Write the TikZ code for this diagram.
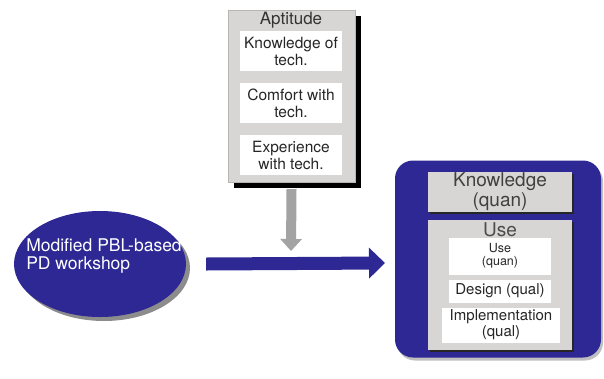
\documentclass[tikz,border=0pt]{standalone}
\usepackage{fontspec}
\setmainfont{TeX Gyre Heros}
\usetikzlibrary{shapes.geometric,shadows,arrows.meta,backgrounds}
\definecolor{navy}{RGB}{46,40,148}
\definecolor{boxgray}{RGB}{216,214,212}
\definecolor{arrgray}{RGB}{163,163,163}
\tikzset{
    aptbox/.style={rectangle, fill=boxgray, draw=boxgray!85!black, minimum width=127pt, minimum height=172pt},
    shade/.style={fill=black},
    item/.style={rectangle, fill=white, minimum width=102pt, minimum height=40pt, inner sep=0, align=center,
        text=black!85, font=\fontsize{15.5}{17}\selectfont},
    title/.style={inner sep=0, text=black!80, font=\fontsize{17}{18}\selectfont},
    workshop/.style={ellipse, fill=navy, minimum width=172pt, minimum height=106pt,
        general shadow={fill=black!45, shadow xshift=4pt, shadow yshift=-4pt}},
    wklabel/.style={text=white, align=left, inner sep=0, font=\fontsize{17.5}{18.5}\selectfont},
    result/.style={rectangle, fill=navy, rounded corners=18pt, minimum width=206pt, minimum height=197pt,
        general shadow={fill=black!25, shadow xshift=2pt, shadow yshift=-3pt}},
    graybox/.style={rectangle, fill=boxgray, minimum width=144pt, inner sep=0, align=center, text=black!75,
        font=\fontsize{19}{20}\selectfont, preaction={fill=black!85, transform canvas={xshift=2pt, yshift=-2pt}}},
    bluearrow/.style={draw=navy, line width=13pt, -{Triangle[length=16pt, width=30pt]}},
    grayarrow/.style={draw=arrgray, line width=10pt, -{Triangle[length=12pt, width=21pt]}}
}

\begin{document}
\begin{tikzpicture}[x=1pt, y=-1pt]
    \useasboundingbox (0,0) rectangle (604,378);
    % aptitude block
    \node[aptbox] (apt) at (291.5,96) {};
    \begin{pgfonlayer}{background}
        \fill[shade] ([shift={(6pt,-6pt)}]apt.south west) rectangle ([shift={(6pt,-6pt)}]apt.north east);
    \end{pgfonlayer}
    \node[title] (apttitle) at (291,20) {Aptitude};
    \node[item] (know) at (291,51) {Knowledge of\\tech.};
    \node[item] (comf) at (291,103) {Comfort with\\tech.};
    \node[item] (exp) at (291,155) {Experience\\with tech.};
    % workshop and outcome
    \node[workshop, label={[wklabel, yshift=8pt, xshift=4pt]center:{Modified PBL-based\\PD workshop}}] (wk) at (100,264) {};
    \node[result] (res) at (498,259) {};
    \node[graybox, minimum height=40pt] (knq) at (500,192) {Knowledge\\(quan)};
    \node[graybox, minimum height=130pt] (use) at (500,285) {};
    \node[title, font=\fontsize{19}{20}\selectfont, text=black!70] (usetitle) at (500,230) {Use};
    \node[item, minimum height=37pt, font=\fontsize{12.5}{13.5}\selectfont] (useq) at (500,256) {Use\\(quan)};
    \node[item, minimum height=23pt, font=\fontsize{15}{16}\selectfont] (design) at (500,291) {Design (qual)};
    \node[item, minimum width=118pt, minimum height=35pt, font=\fontsize{15}{16}\selectfont] (impl) at (501,325) {Implementation\\(qual)};
    % arrows
    \coordinate (join) at (291,251);
    \coordinate (tip) at (385,263);
    \draw[bluearrow] ([xshift=20pt]wk.east) -- (tip);
    \draw[grayarrow] ([yshift=-7pt]apt.south) -- (join);
\end{tikzpicture}
\end{document}
